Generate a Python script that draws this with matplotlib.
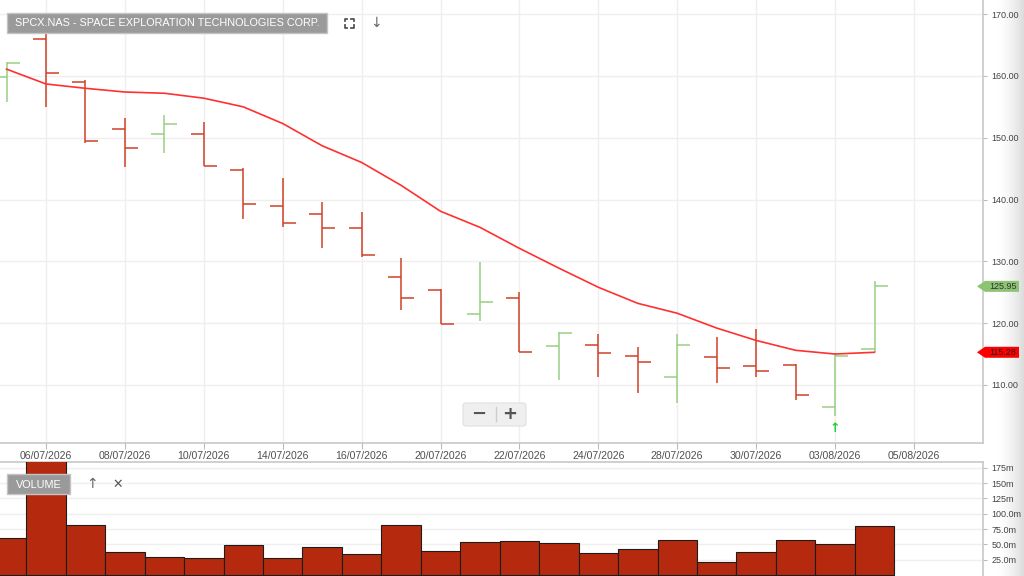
import matplotlib
matplotlib.use("Agg")
import matplotlib.pyplot as plt
import matplotlib.patches as mpatches
from matplotlib.lines import Line2D
import numpy as np

# ---------------- data ----------------
title = "SPCX.NAS - SPACE EXPLORATION TECHNOLOGIES CORP."
dates = ["03/07/2026", "06/07/2026", "07/07/2026", "08/07/2026", "09/07/2026", "10/07/2026",
         "13/07/2026", "14/07/2026", "15/07/2026", "16/07/2026", "17/07/2026", "20/07/2026",
         "21/07/2026", "22/07/2026", "23/07/2026", "24/07/2026", "27/07/2026", "28/07/2026",
         "29/07/2026", "30/07/2026", "31/07/2026", "03/08/2026", "04/08/2026", "05/08/2026"]
opens  = [159.8, 166.0, 159.0, 151.4, 150.6, 150.6, 144.8, 138.9, 137.6, 135.4, 127.4, 125.3,
          121.5, 124.0, 116.3, 116.4, 114.7, 111.3, 114.5, 113.0, 113.2, 106.4, 115.8]
highs  = [162.2, 168.0, 159.3, 153.2, 153.7, 152.5, 145.1, 143.5, 139.6, 138.0, 130.5, 125.5,
          129.9, 125.0, 118.5, 118.2, 116.1, 118.2, 117.7, 119.0, 113.4, 115.1, 126.8]
lows   = [155.8, 155.0, 149.1, 145.2, 147.5, 145.4, 136.8, 135.5, 132.1, 130.7, 122.1, 119.8,
          120.3, 115.3, 110.8, 111.3, 108.7, 107.1, 110.3, 111.3, 107.5, 105.0, 115.3]
closes = [162.1, 160.5, 149.5, 148.3, 152.2, 145.4, 139.3, 136.2, 135.4, 131.0, 124.0, 119.8,
          123.4, 115.3, 118.4, 115.1, 113.7, 116.4, 112.7, 112.2, 108.3, 114.7, 125.95]
moving_avg = [161.1, 158.7, 158.0, 157.4, 157.2, 156.4, 155.0, 152.3, 148.7, 146.0, 142.3, 138.1,
              135.5, 132.1, 128.9, 125.8, 123.2, 121.6, 119.2, 117.2, 115.6, 115.0, 115.28]
volumes = [60, 190, 82, 38, 30, 28, 49, 28, 46, 34, 82, 39, 54, 56, 52, 36, 42, 57, 22, 38, 57, 51, 80]  # millions
price_ticks = [110, 120, 130, 140, 150, 160, 170]
vol_ticks = [25, 50, 75, 100, 125, 150, 175]
vol_tick_labels = ["25.0m", "50.0m", "75.0m", "100.0m", "125m", "150m", "175m"]
signal_bar = 21  # buy arrow under this bar

# ---------------- figure ----------------
W, H = 1024, 576
fig = plt.figure(figsize=(W / 100, H / 100), dpi=100, facecolor="white")
plt.rcParams["font.family"] = ["Liberation Sans", "DejaVu Sans"]

def fx(x):
    return x / W

def fy(y):
    return 1 - y / H

# right-edge shadow
gax = fig.add_axes([fx(998), 0, fx(26), 1], zorder=-5)
grad = np.linspace(0, 1, 50)[None, :] ** 1.5
gax.imshow(grad, aspect="auto", cmap=matplotlib.colors.LinearSegmentedColormap.from_list("g", ["#ffffff", "#dcdcdc"]),
           extent=[0, 1, 0, 1])
gax.axis("off")

ax = fig.add_axes([0, fy(443), fx(983), 1 - fy(443) + 0.0001])
axv = fig.add_axes([0, 0, fx(983), fy(462)])

n = len(opens)
idx = np.arange(n)
red = "#CE4128"
green = "#98CF84"
cols = [green if c >= o else red for o, c in zip(opens, closes)]
tw = 0.33
ax.vlines(idx, lows, highs, colors=cols, linewidth=1.1, zorder=3)
ax.hlines(opens, idx - tw, idx, colors=cols, linewidth=1.1, zorder=3)
ax.hlines(closes, idx, idx + tw, colors=cols, linewidth=1.1, zorder=3)
ax.plot(idx, moving_avg, color="#FF3030", linewidth=1.2, zorder=4)

ax.set_xlim(-0.166, 24.75)
ax.set_ylim(100.6, 172.3)
ax.set_yticks(price_ticks)
ax.set_yticklabels([f"{v:.2f}" for v in price_ticks])
ax.yaxis.tick_right()
ax.tick_params(axis="y", direction="out", length=3, color="#bbbbbb", labelsize=6.5,
               labelcolor="#444444", pad=3)
tick_pos = list(range(1, len(dates), 2))
ax.set_xticks(tick_pos)
ax.set_xticklabels([dates[i] for i in tick_pos])
ax.tick_params(axis="x", direction="out", length=4, color="#bbbbbb", labelsize=7.6,
               labelcolor="#505050", pad=2)
ax.grid(True, color="#efefef", linewidth=1.0, zorder=0)
ax.set_axisbelow(True)
for s in ["left", "top"]:
    ax.spines[s].set_visible(False)
for s in ["right", "bottom"]:
    ax.spines[s].set_color("#c8c8c8")
    ax.spines[s].set_linewidth(1.2)

# buy signal arrow
ax.annotate("↑", xy=(signal_bar, lows[signal_bar]), xytext=(0, -9), textcoords="offset points",
            ha="center", va="center", color="#22CC33", fontsize=9, fontweight="bold",
            family="DejaVu Sans", zorder=5)

# price tags on right axis (drawn in pixel space at the data value's height)
def tag(value, fc, tc):
    ypx = ax.transData.transform((0, value))[1]
    x0, xb, x1, hh = 977, 985, 1019, 5.5
    poly = mpatches.Polygon([(x0, ypx), (xb, ypx + hh), (x1, ypx + hh), (x1, ypx - hh), (xb, ypx - hh)],
                            closed=True, transform=None, facecolor=fc, edgecolor="none", zorder=20)
    fig.patches.append(poly)
    fig.text(fx(989), ypx / H, f"{value:.2f}", ha="left", va="center", fontsize=6.5,
             color=tc, zorder=21)

tag(closes[-1], "#8CC474", "#333333")
tag(moving_avg[-1], "#FF0000", "#222222")

# volume panel
axv.bar(idx, volumes, width=1.0, color="#B52A0E", edgecolor="#1c1c1c", linewidth=0.8, zorder=3)
axv.set_xlim(-0.166, 24.75)
axv.set_ylim(-1.6, 184.6)
axv.set_yticks(vol_ticks)
axv.set_yticklabels(vol_tick_labels)
axv.yaxis.tick_right()
axv.tick_params(axis="y", direction="out", length=3, color="#bbbbbb", labelsize=6.5,
                labelcolor="#444444", pad=3)
axv.set_xticks([])
axv.grid(True, axis="y", color="#efefef", linewidth=1.0, zorder=0)
axv.set_axisbelow(True)
for s in ["left", "bottom"]:
    axv.spines[s].set_visible(False)
for s in ["right", "top"]:
    axv.spines[s].set_color("#c8c8c8")
    axv.spines[s].set_linewidth(1.2)

# ---------------- overlays ----------------
def rect(x0, y0, x1, y1, fc, ec="none", round_=False):
    if round_:
        p = mpatches.FancyBboxPatch((fx(x0), fy(y1)), fx(x1 - x0), fy(y0) - fy(y1),
                                    boxstyle="round,pad=0,rounding_size=0.004",
                                    transform=fig.transFigure, facecolor=fc, edgecolor=ec, zorder=10)
    else:
        p = mpatches.Rectangle((fx(x0), fy(y1)), fx(x1 - x0), fy(y0) - fy(y1),
                               transform=fig.transFigure, facecolor=fc, edgecolor=ec, zorder=10)
    fig.patches.append(p)

# title box
rect(7, 13, 327, 33, "#9a9a9a", "#c4c4c4")
fig.text(fx(167), fy(23.5), title, ha="center", va="center", color="white", fontsize=7.8, zorder=11)

# fullscreen icon
cx, cy, s, a = 349, 23, 4.5, 2.5
for sx in (-1, 1):
    for sy in (-1, 1):
        xs = [cx + sx * s, cx + sx * s, cx + sx * (s - a)]
        ys = [cy + sy * (s - a), cy + sy * s, cy + sy * s]
        fig.lines.append(Line2D([fx(v) for v in xs], [fy(v) for v in ys], transform=fig.transFigure,
                                color="#555555", linewidth=1.3, zorder=11))
fig.text(fx(376), fy(23), "↓", ha="center", va="center", color="#666666", fontsize=10,
         family="DejaVu Sans", zorder=11)

# zoom buttons
rect(463, 403, 526, 426, "#efefef", "#e4e4e4", round_=True)
fig.text(fx(479), fy(414), "−", ha="center", va="center", color="#555555", fontsize=13,
         fontweight="bold", family="DejaVu Sans", zorder=11)
fig.text(fx(510), fy(414), "+", ha="center", va="center", color="#555555", fontsize=13,
         fontweight="bold", family="DejaVu Sans", zorder=11)
fig.lines.append(Line2D([fx(496), fx(496)], [fy(407), fy(421)], transform=fig.transFigure,
                        color="#cccccc", linewidth=1, zorder=11))

# volume label box
rect(7, 474, 70, 494, "#9a9a9a", "#c4c4c4")
fig.text(fx(38.5), fy(484.5), "VOLUME", ha="center", va="center", color="white", fontsize=7.8, zorder=11)
fig.text(fx(92), fy(484), "↑", ha="center", va="center", color="#666666", fontsize=10,
         family="DejaVu Sans", zorder=11)
fig.text(fx(118), fy(484), "✕", ha="center", va="center", color="#555555", fontsize=9,
         family="DejaVu Sans", zorder=11)

fig.savefig("out.png", dpi=100, facecolor="white")
